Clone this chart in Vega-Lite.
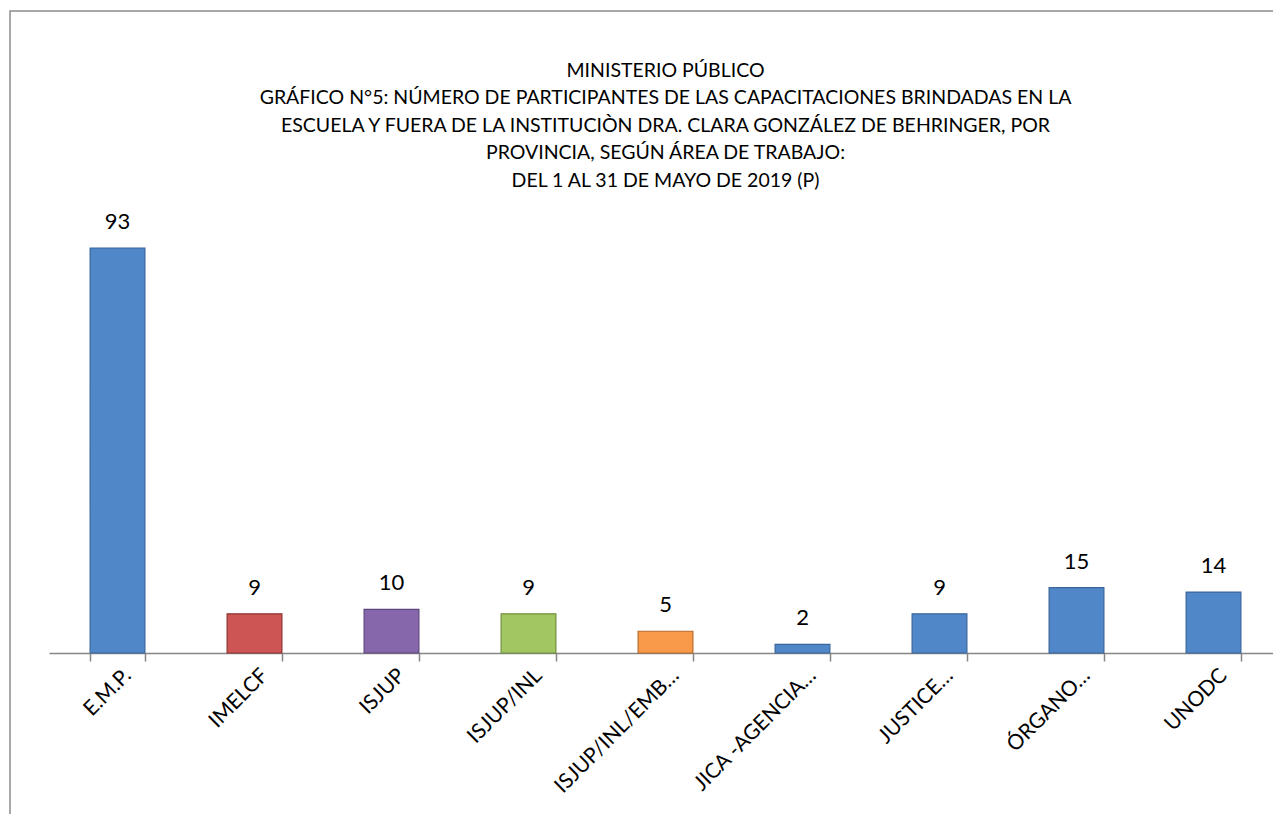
{
  "$schema": "https://vega.github.io/schema/vega-lite/v6.json",
  "autosize": "none",
  "padding": {"left": 10, "top": 11, "right": 0, "bottom": 0},
  "width": 1311,
  "height": 820,
  "background": "white",
  "title": {
    "text": ["MINISTERIO PÚBLICO", "GRÁFICO N°5: NÚMERO DE PARTICIPANTES DE LAS CAPACITACIONES BRINDADAS EN LA", "ESCUELA Y FUERA DE LA INSTITUCIÒN  DRA. CLARA GONZÁLEZ DE BEHRINGER, POR", "PROVINCIA, SEGÚN ÁREA DE TRABAJO:", "DEL 1 AL 31 DE MAYO DE 2019 (P)"],
    "anchor": "middle",
    "frame": "group",
    "orient": "top",
    "offset": 0,
    "baseline": "top",
    "dy": 180,
    "font": "Lato",
    "fontSize": 19.5,
    "fontWeight": "normal",
    "lineHeight": 27.5,
    "color": "#000000"
  },
  "data": {
    "values": [
      {"area": "E.M.P.", "n": 93, "grp": "a"},
      {"area": "IMELCF", "n": 9, "grp": "b"},
      {"area": "ISJUP", "n": 10, "grp": "c"},
      {"area": "ISJUP/INL", "n": 9, "grp": "d"},
      {"area": "ISJUP/INL/EMB…", "n": 5, "grp": "e"},
      {"area": "JICA -AGENCIA…", "n": 2, "grp": "a"},
      {"area": "JUSTICE…", "n": 9, "grp": "a"},
      {"area": "ÓRGANO…", "n": 15, "grp": "a"},
      {"area": "UNODC", "n": 14, "grp": "a"}
    ]
  },
  "encoding": {
    "x": {
      "field": "area",
      "type": "nominal",
      "sort": null,
      "title": null,
      "scale": {"range": [39, 1272], "paddingInner": 0.6, "paddingOuter": 0.3},
      "axis": {
        "orient": "bottom",
        "offset": -178,
        "tickBand": "extent",
        "domainColor": "#868686",
        "domainWidth": 1.5,
        "tickColor": "#868686",
        "tickWidth": 1.5,
        "tickSize": 8,
        "labelAngle": -45,
        "labelAlign": "right",
        "labelBaseline": "middle",
        "labelPadding": 11,
        "labelOffset": 10,
        "labelFont": "Lato",
        "labelFontSize": 21,
        "labelColor": "#000000",
        "labelLimit": 300
      }
    },
    "y": {
      "field": "n",
      "type": "quantitative",
      "scale": {"domain": [0, 100], "range": [642, 206.5], "nice": false, "zero": true},
      "axis": null
    }
  },
  "layer": [
    {
      "mark": {"type": "bar", "strokeWidth": 1.2},
      "encoding": {
        "color": {
          "field": "grp",
          "type": "nominal",
          "legend": null,
          "scale": {"domain": ["a", "b", "c", "d", "e"], "range": ["#5087C8", "#CD5553", "#8667AB", "#A2C661", "#F89A4A"]}
        },
        "stroke": {
          "field": "grp",
          "type": "nominal",
          "legend": null,
          "scale": {"domain": ["a", "b", "c", "d", "e"], "range": ["#3A659A", "#8E3533", "#5E467C", "#71903F", "#B86A2A"]}
        }
      }
    },
    {
      "mark": {"type": "text", "baseline": "alphabetic", "dy": -19, "font": "Lato", "fontSize": 22, "color": "#000000"},
      "encoding": {"text": {"field": "n", "type": "quantitative"}}
    }
  ],
  "config": {
    "view": {"stroke": "#8C8C8C", "strokeWidth": 1.5, "fill": "white"}
  }
}
